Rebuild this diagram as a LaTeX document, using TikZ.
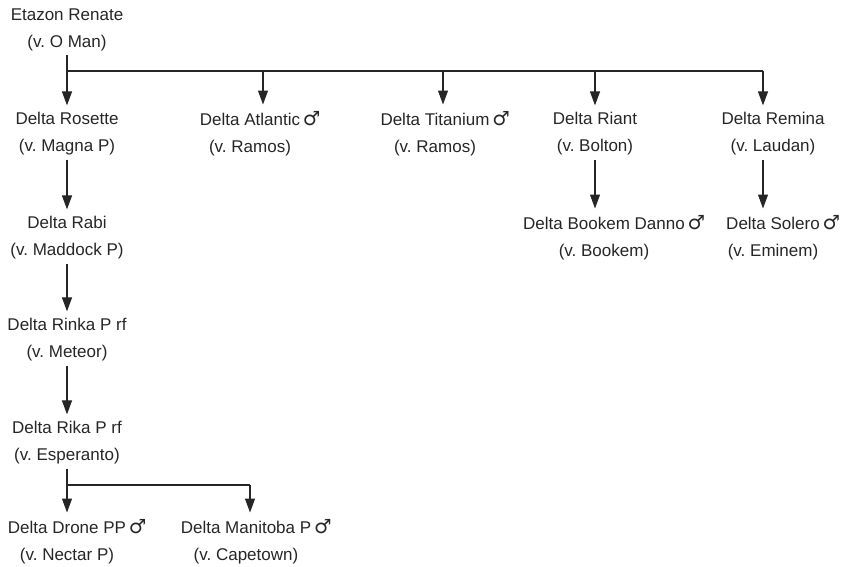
\documentclass[tikz,border=0pt]{standalone}
\usepackage{fontspec}
\setmainfont{Liberation Sans}
\newfontfamily\symfont[Scale=1.15]{DejaVu Sans}
\usetikzlibrary{arrows.meta}
\newcommand{\malesign}{\rlap{\,{\symfont\char"2642}}}
\frenchspacing

\begin{document}
\begin{tikzpicture}[x=1pt,y=-1pt,
  dog/.style={align=center,font=\fontsize{17}{27}\selectfont,text=black!85,inner xsep=2pt,inner ysep=4pt},
  arr/.style={-{Triangle[length=14pt,width=10pt]},line width=1.2pt,draw=black!85,shorten >=3pt},
  bar/.style={line width=1.2pt,draw=black!85}]
\useasboundingbox (0,0) rectangle (855,566);
% dam and her foals
\node[dog] (eta) at (67,30) {Etazon Renate\\(v. O Man)};
\node[dog] (ros) at (67,134) {Delta Rosette\\(v. Magna P)};
\node[dog] (atl) at (250,134) {Delta Atlantic\malesign\\(v. Ramos)};
\node[dog] (tit) at (435,134) {Delta Titanium\malesign\\(v. Ramos)};
\node[dog] (ria) at (595,134) {Delta Riant\\(v. Bolton)};
\node[dog] (rem) at (773,134) {Delta Remina\\(v. Laudan)};
\node[dog] (rab) at (67,238) {Delta Rabi\\(v. Maddock P)};
\node[dog] (bok) at (604,238) {Delta Bookem Danno\malesign\\(v. Bookem)};
\node[dog] (sol) at (773,238) {Delta Solero\malesign\\(v. Eminem)};
\node[dog] (rin) at (67,340) {Delta Rinka P rf\\(v. Meteor)};
\node[dog] (rik) at (67,443) {Delta Rika P rf\\(v. Esperanto)};
\node[dog] (dro) at (67,542) {Delta Drone PP\malesign\\(v. Nectar P)};
\node[dog] (man) at (246,542) {Delta Manitoba P\malesign\\(v. Capetown)};
% arrow columns
\coordinate (topbar) at (67,71);
\coordinate (atlin) at ([xshift=13pt]atl.north);
\coordinate (titin) at ([xshift=8pt]tit.north);
\coordinate (remin) at ([xshift=-10pt]rem.north);
\coordinate (remout) at ([xshift=-10pt]rem.south);
\coordinate (lowbar) at (67,485);
\coordinate (manin) at ([xshift=4pt]man.north);
\draw[bar] (eta.south) -- (topbar) -- (topbar -| remin);
\draw[arr] (eta.south) -- (ros.north);
\draw[arr] (topbar -| atlin) -- (atlin);
\draw[arr] (topbar -| titin) -- (titin);
\draw[arr] (topbar -| ria.north) -- (ria.north);
\draw[arr] (topbar -| remin) -- (remin);
\draw[arr] (ros.south) -- (rab.north);
\draw[arr] (rab.south) -- (rin.north);
\draw[arr] (rin.south) -- (rik.north);
\draw[arr] (ria.south) -- (ria.south |- bok.north);
\draw[arr] (remout) -- (remout |- sol.north);
\draw[bar] (rik.south) -- (lowbar) -- (lowbar -| manin);
\draw[arr] (rik.south) -- (dro.north);
\draw[arr] (lowbar -| manin) -- (manin);
\end{tikzpicture}
\end{document}
